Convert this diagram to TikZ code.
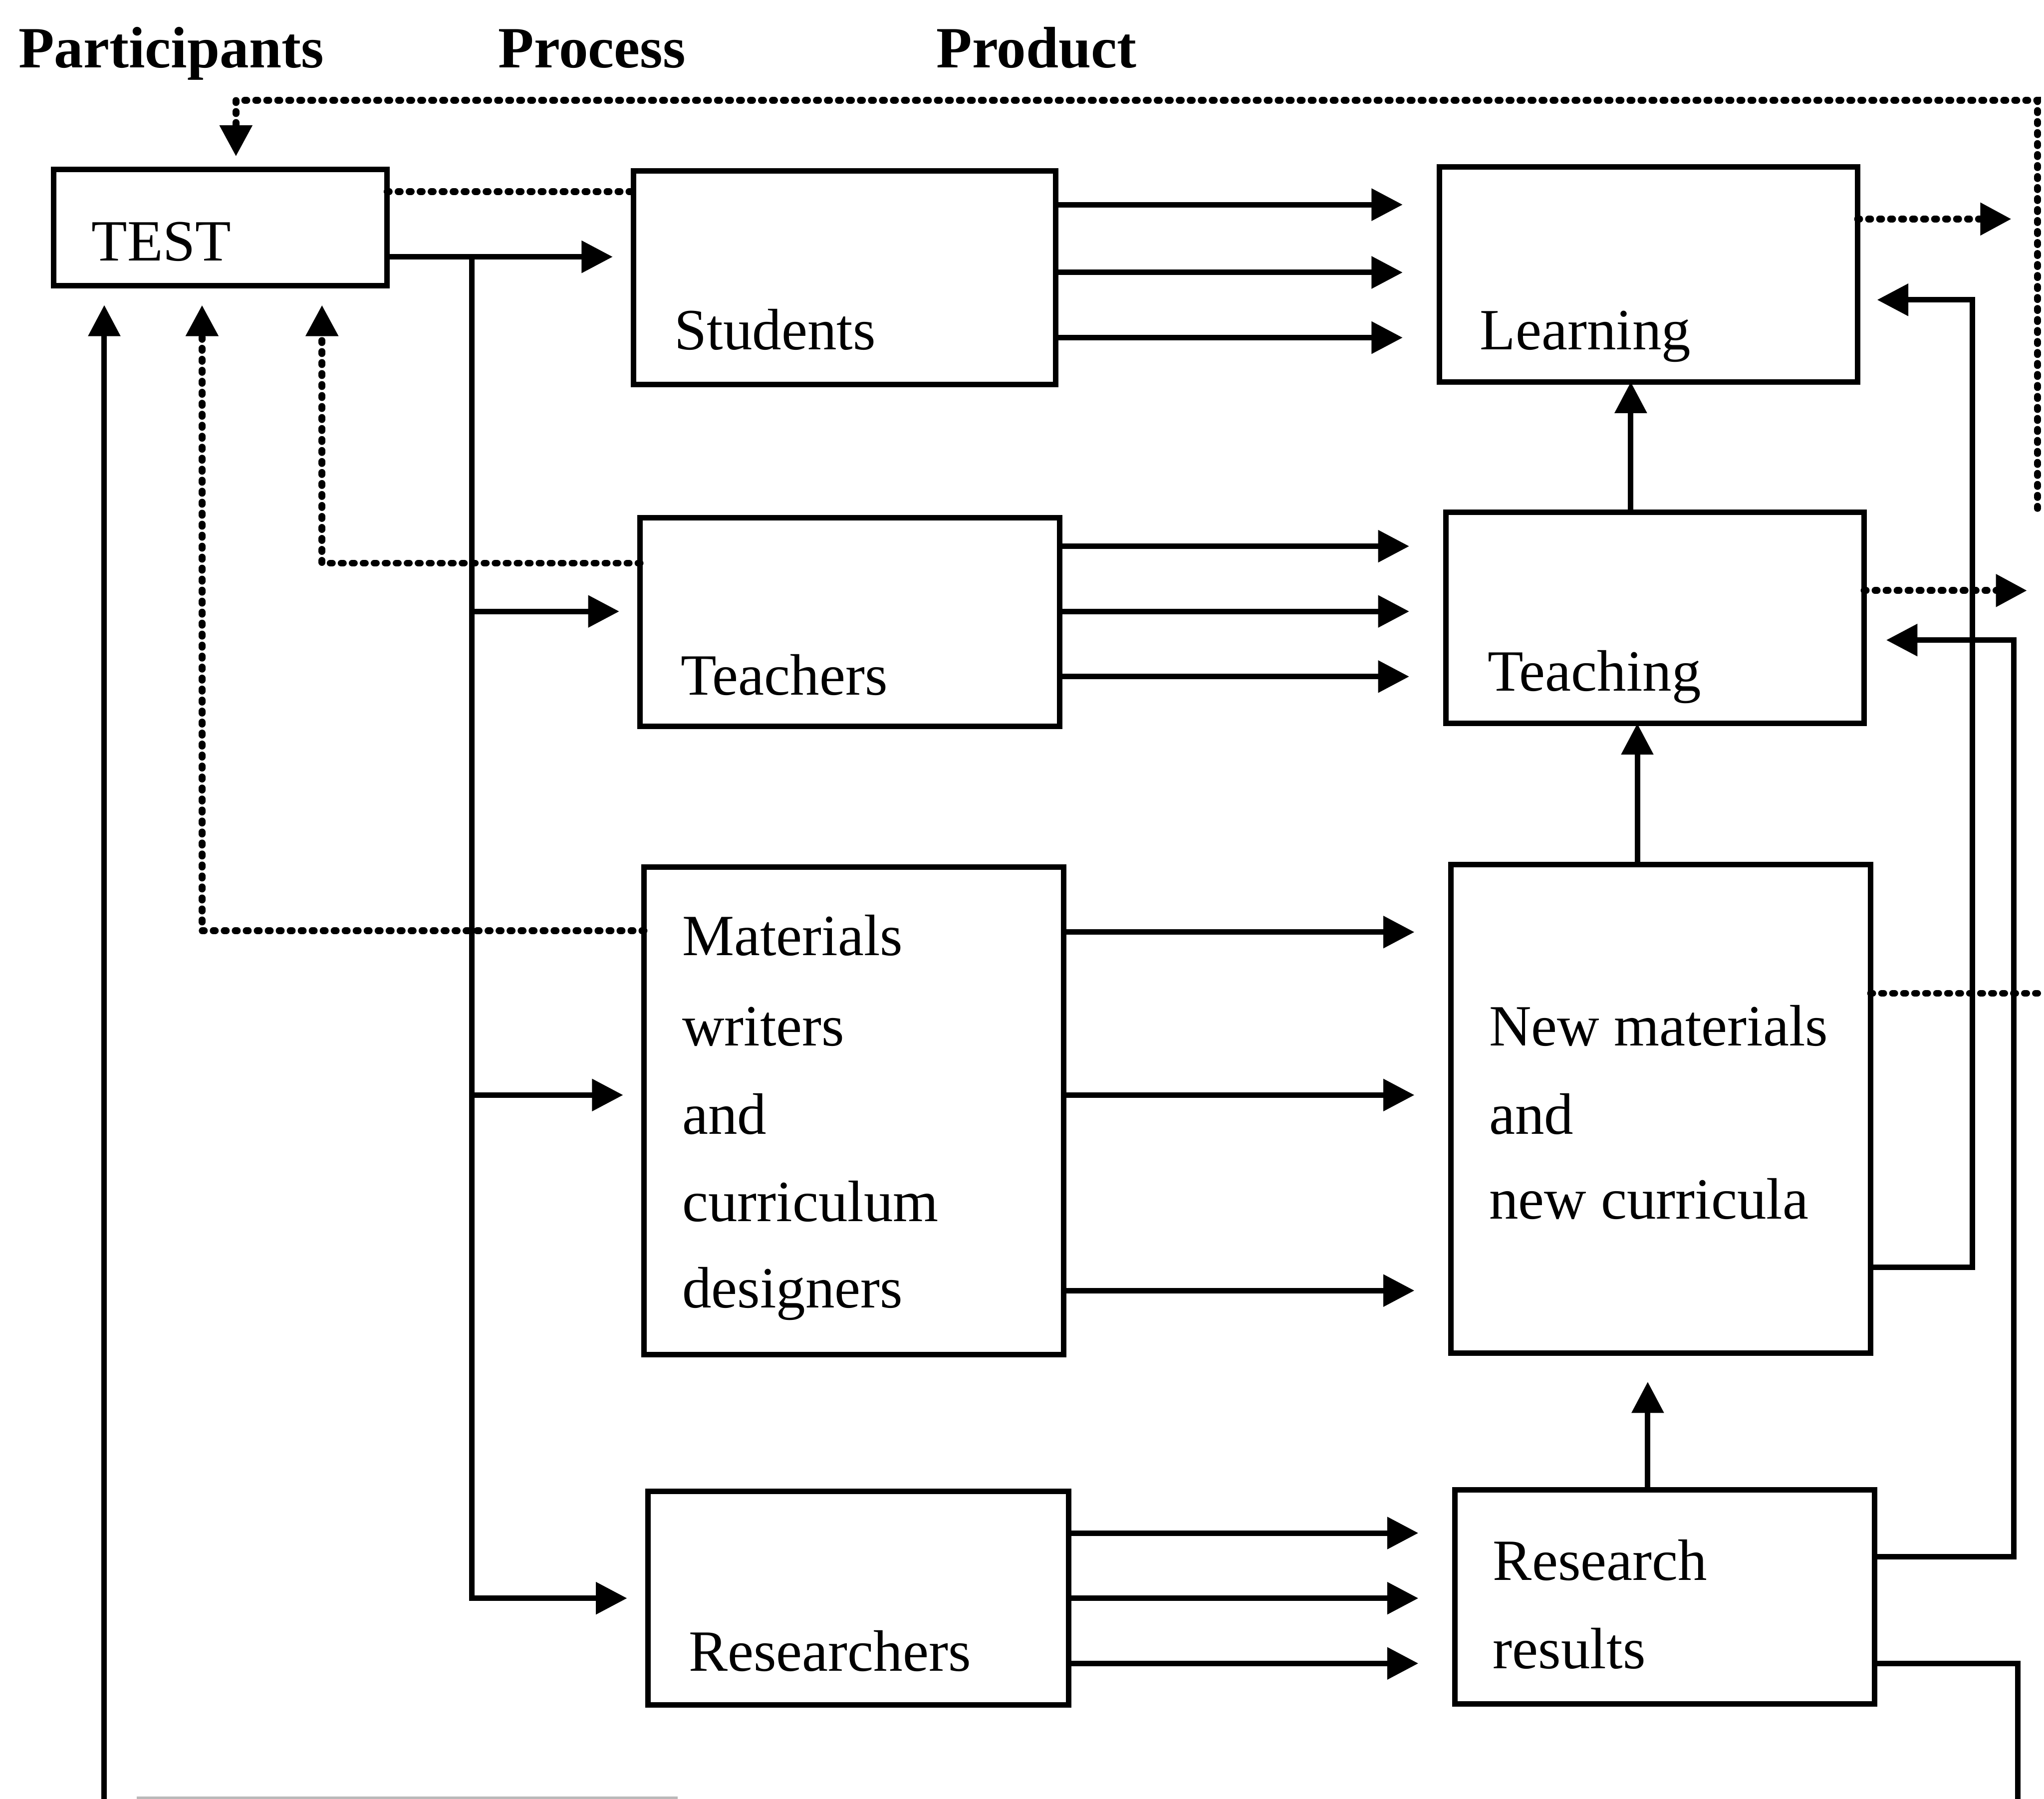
\documentclass[tikz,border=0pt]{standalone}
\usepackage{fontspec}
\setmainfont{Liberation Serif}
\usetikzlibrary{arrows.meta}
\begin{document}
\begin{tikzpicture}[x=0.02cm,y=-0.02cm,
  box/.style={draw,line width=2.4pt,rectangle,inner sep=0pt,outer sep=0pt},
  lbl/.style={anchor=base west,inner sep=0pt,font=\fontsize{25.5pt}{30pt}\selectfont},
  head/.style={anchor=base west,inner sep=0pt,font=\fontsize{25.5pt}{30pt}\selectfont\bfseries},
  tip/.style={-{Triangle[length=13.6pt,width=13.6pt]}},
  link/.style={line width=2.4pt},
  dots/.style={line width=3pt,line cap=round,dash pattern=on 0.9pt off 3.9pt},
]
\useasboundingbox (0,0) rectangle (1568,1380);

% column headings
\node[head] (hpart) at (14,52) {Participants};
\node[head] (hproc) at (382,52) {Process};
\node[head] (hprod) at (718,52) {Product};

% boxes
\node[box,minimum width=5.12cm,minimum height=1.78cm] (test) at (169,174.5) {};
\node[box,minimum width=6.48cm,minimum height=3.28cm] (students) at (648,213) {};
\node[box,minimum width=6.44cm,minimum height=3.20cm] (teachers) at (652,477) {};
\node[box,minimum width=6.44cm,minimum height=7.48cm] (writers) at (655,852) {};
\node[box,minimum width=6.46cm,minimum height=3.28cm] (researchers) at (658.5,1226) {};
\node[box,minimum width=6.42cm,minimum height=3.30cm] (learning) at (1264.5,210.5) {};
\node[box,minimum width=6.42cm,minimum height=3.24cm] (teaching) at (1269.5,474) {};
\node[box,minimum width=6.44cm,minimum height=7.50cm] (newmat) at (1274,850.5) {};
\node[box,minimum width=6.44cm,minimum height=3.28cm] (results) at (1277,1225) {};

% box texts
\node[lbl] (ttest) at (70,200) {TEST};
\node[lbl] (tstudents) at (517,268) {Students};
\node[lbl] (tteachers) at (522,533) {Teachers};
\foreach \t/\y [count=\i] in {Materials/733, writers/802, and/870, curriculum/937, designers/1003}
  \node[lbl] (mw\i) at (523,\y) {\t};
\node[lbl] (tresearchers) at (528,1282) {Researchers};
\node[lbl] (tlearning) at (1135,268) {Learning};
\node[lbl] (tteaching) at (1141,530) {Teaching};
\foreach \t/\y [count=\i] in {New materials/802, and/870, new curricula/935}
  \node[lbl] (nm\i) at (1142,\y) {\t};
\node[lbl] (rr1) at (1145,1212) {Research};
\node[lbl] (rr2) at (1145,1280) {results};

% TEST to the participants
\draw[dots] (test.east |- 0,147) -- (students.west |- 0,147);
\coordinate (fork) at (362,197);
\draw[link,tip,shorten >=0.32cm] (test.east |- 0,197) -- (students.west |- 0,197);
\draw[link,tip,shorten >=0.32cm] (fork) |- (researchers.west);
\draw[link,tip,shorten >=0.32cm] (fork |- 0,469) -- (teachers.west |- 0,469);
\draw[link,tip,shorten >=0.32cm] (fork |- 0,840) -- (writers.west |- 0,840);

% participants to products
\foreach \y in {157,209,259}
  \draw[link,tip,shorten >=0.56cm] (students.east |- 0,\y) -- (learning.west |- 0,\y);
\foreach \y in {419,469,519}
  \draw[link,tip,shorten >=0.56cm] (teachers.east |- 0,\y) -- (teaching.west |- 0,\y);
\foreach \y in {715,840,990}
  \draw[link,tip,shorten >=0.56cm] (writers.east |- 0,\y) -- (newmat.west |- 0,\y);
\foreach \y in {1176,1226,1276}
  \draw[link,tip,shorten >=0.56cm] (researchers.east |- 0,\y) -- (results.west |- 0,\y);

% products feeding each other
\draw[link,tip] (teaching.north -| 1251,0) -- (learning.south -| 1251,0);
\draw[link,tip] (newmat.north -| 1256,0) -- (teaching.south -| 1256,0);
\draw[link,tip,shorten >=0.44cm] (results.north -| 1264,0) -- (newmat.south -| 1264,0);
\draw[link,tip,shorten >=0.3cm] (newmat.east |- 0,972) -- (1513,972) |- (learning.east |- 0,230);
\draw[link,tip,shorten >=0.34cm] (results.east |- 0,1194) -- (1545,1194) |- (teaching.east |- 0,491);
\coordinate (rexit) at (1548,1380);
\draw[link] (results.east |- 0,1276) -| (rexit);

% washback outputs
\coordinate (lout) at (1543,168);
\draw[dots,tip] (learning.east |- 0,168) -- (lout);
\coordinate (tout) at (1555,453);
\draw[dots,tip] (teaching.east |- 0,453) -- (tout);
\coordinate (nout) at (1568,762);
\draw[dots] (newmat.east |- 0,762) -- (nout);

% feedback into TEST
\coordinate (fbr) at (1563,390);
\coordinate (fbc) at (1563,77);
\draw[dots,tip,shorten >=0.2cm] (fbr) -- (fbc) -| (test.north -| 181,0);
\draw[dots,tip,shorten >=0.3cm] (teachers.west |- 0,432) -| (test.south -| 247,0);
\draw[dots,tip,shorten >=0.3cm] (writers.west |- 0,714) -| (test.south -| 155,0);
\coordinate (lexit) at (80,1380);
\draw[link,tip,shorten >=0.3cm] (lexit) -- (test.south -| 80,0);

% edge of the next box below
\draw[gray!55,line width=1pt] (105,1379) -- (520,1379);
\end{tikzpicture}
\end{document}
